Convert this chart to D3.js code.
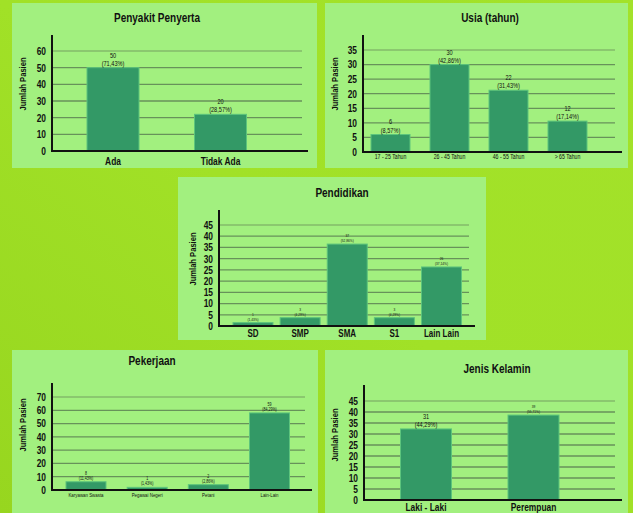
<!DOCTYPE html>
<html lang="id">
<head>
    <meta charset="UTF-8">
    <title>Karakteristik Pasien</title>
    <style>
        body{
            margin: 0;
            overflow: hidden;
        }
        svg{
            display: block;
        }
        text{
            font-family: "Liberation Sans", Arial, sans-serif;
            fill: #111;
        }
        .title{
            font-size: 12.5px;
            font-weight: bold;
        }
        .ylabel{
            font-size: 9.5px;
            font-weight: bold;
        }
        .tick text{
            font-family: "Liberation Sans", Arial, sans-serif;
            font-size: 10.5px;
            font-weight: bold;
            fill: #111;
        }
    </style>
    <script src="https://cdn.jsdelivr.net/npm/d3@7"></script>
</head>
<body>
<script>
    const width = 633
    const height = 513
    // narrow look of the original font
    const K = 0.8

    // Penyakit Penyerta
    const penyakitCats = ["Ada", "Tidak Ada"]
    const penyakitVals = [50, 22]
    const penyakitCounts = ["50", "20"]
    const penyakitPct = ["(71,43%)", "(28,57%)"]
    const penyakitTicks = [0, 10, 20, 30, 40, 50, 60]

    // Usia (tahun)
    const usiaCats = ["17 - 25 Tahun", "26 - 45 Tahun", "46 - 55 Tahun", "> 65 Tahun"]
    const usiaVals = [6, 30, 21.2, 10.6]
    const usiaCounts = ["6", "30", "22", "12"]
    const usiaPct = ["(8,57%)", "(42,86%)", "(31,43%)", "(17,14%)"]
    const usiaTicks = [0, 5, 10, 15, 20, 25, 30, 35]

    // Pendidikan
    const pendidikanCats = ["SD", "SMP", "SMA", "S1", "Lain Lain"]
    const pendidikanVals = [1.5, 3.7, 36.5, 3.7, 26.3]
    const pendidikanCounts = ["1", "3", "37", "3", "26"]
    const pendidikanPct = ["(1,43%)", "(4,29%)", "(52,86%)", "(4,29%)", "(37,14%)"]
    const pendidikanTicks = [0, 5, 10, 15, 20, 25, 30, 35, 40, 45]

    // Pekerjaan
    const pekerjaanCats = ["Karyawan Swasta", "Pegawai Negeri", "Petani", "Lain-Lain"]
    const pekerjaanVals = [6.2, 2, 4, 58]
    const pekerjaanCounts = ["8", "1", "2", "59"]
    const pekerjaanPct = ["(11,43%)", "(1,43%)", "(2,86%)", "(84,29%)"]
    const pekerjaanTicks = [0, 10, 20, 30, 40, 50, 60, 70]

    // Jenis Kelamin
    const kelaminCats = ["Laki - Laki", "Perempuan"]
    const kelaminVals = [32.3, 38.6]
    const kelaminCounts = ["31", "39"]
    const kelaminPct = ["(44,29%)", "(55,71%)"]
    const kelaminTicks = [0, 5, 10, 15, 20, 25, 30, 35, 40, 45]

    //layout of every panel
    const charts = [
        {title: "Penyakit Penyerta", cats: penyakitCats, vals: penyakitVals, counts: penyakitCounts, pct: penyakitPct, ticks: penyakitTicks,
            panel: [12, 3, 305, 165], titleX: 157, titleY: 22, ax: 52, axTop: 35, y0: 151, yTopPx: 51,
            axEnd: 308, gridEnd: 302, c0: 113, c1: 220.5, bw: 52, catSize: 10.5, catBold: true, catY: 165,
            valSize: [7, 7], ylX: 23, ylY: 84},
        {title: "Usia (tahun)", cats: usiaCats, vals: usiaVals, counts: usiaCounts, pct: usiaPct, ticks: usiaTicks,
            panel: [325, 3, 303, 165], titleX: 490, titleY: 22, ax: 363, axTop: 35, y0: 152, yTopPx: 50,
            axEnd: 622, gridEnd: 615, c0: 390.5, c1: 567.5, bw: 39, catSize: 6.5, catBold: false, catY: 158.5,
            valSize: [7, 7, 7, 7], ylX: 335, ylY: 84},
        {title: "Pendidikan", cats: pendidikanCats, vals: pendidikanVals, counts: pendidikanCounts, pct: pendidikanPct, ticks: pendidikanTicks,
            panel: [178, 177, 308, 163], titleX: 342, titleY: 197, ax: 219, axTop: 210, y0: 326, yTopPx: 225,
            axEnd: 475, gridEnd: 469, c0: 253, c1: 441.5, bw: 40, catSize: 10, catBold: true, catY: 337,
            valSize: [4, 4, 4, 4, 4], ylX: 193, ylY: 259},
        {title: "Pekerjaan", cats: pekerjaanCats, vals: pekerjaanVals, counts: pekerjaanCounts, pct: pekerjaanPct, ticks: pekerjaanTicks,
            panel: [12, 350, 306, 163], titleX: 152, titleY: 365, ax: 52, axTop: 383, y0: 490, yTopPx: 397,
            axEnd: 312, gridEnd: 305, c0: 86, c1: 269.5, bw: 40, catSize: 5.5, catBold: false, catY: 497,
            valSize: [4.5, 4.5, 4.5, 4.5], ylX: 23, ylY: 425},
        {title: "Jenis Kelamin", cats: kelaminCats, vals: kelaminVals, counts: kelaminCounts, pct: kelaminPct, ticks: kelaminTicks,
            panel: [325, 350, 303, 163], titleX: 497, titleY: 373, ax: 364, axTop: 385, y0: 500, yTopPx: 401,
            axEnd: 622, gridEnd: 615, c0: 426, c1: 533.5, bw: 51, catSize: 10.5, catBold: true, catY: 511,
            valSize: [7, 4], ylX: 335, ylY: 435}
    ]

    let svg = d3.select("body").append("svg")
        .attr("width", width)
        .attr("height", height)
        .attr("viewBox", `0 0 ${width} ${height}`)

    //background gradient
    let defs = svg.append("defs")
    let grad = defs.append("linearGradient").attr("id", "bg")
        .attr("x1", "0").attr("y1", "1").attr("x2", "1").attr("y2", "0")
    grad.append("stop").attr("offset", "0").attr("stop-color", "#97d61f")
    grad.append("stop").attr("offset", "0.5").attr("stop-color", "#a1e127")
    grad.append("stop").attr("offset", "1").attr("stop-color", "#a3e22a")
    svg.append("rect").attr("width", width).attr("height", height).attr("fill", "url(#bg)")

    //condensed text helper
    function narrow(g, x, y, str, size, weight) {
        return g.append("text")
            .attr("transform", `translate(${x},${y}) scale(${K},1)`)
            .attr("text-anchor", "middle")
            .style("font-size", size + "px")
            .style("font-weight", weight || "normal")
            .text(str)
    }

    charts.forEach(c => {
        let g = svg.append("g")
        const n = c.cats.length

        //panel
        g.append("rect")
            .attr("x", c.panel[0]).attr("y", c.panel[1])
            .attr("width", c.panel[2]).attr("height", c.panel[3])
            .attr("fill", "#a2f07f")

        //scales
        const step = (c.c1 - c.c0) / (n - 1)
        const pad = 1 - c.bw / step
        const x = d3.scaleBand()
            .domain(c.cats)
            .range([c.c0 - step / 2, c.c1 + step / 2])
            .paddingInner(pad)
            .paddingOuter(pad / 2)
        const yMax = c.ticks[c.ticks.length - 1]
        const y = d3.scaleLinear().domain([0, yMax]).range([c.y0, c.yTopPx])

        //gridlines
        g.selectAll(".grid")
            .data(c.ticks.filter(t => t > 0))
            .enter()
            .append("line")
            .attr("x1", c.ax).attr("x2", c.gridEnd)
            .attr("y1", d => y(d)).attr("y2", d => y(d))
            .attr("stroke", d => d === yMax ? "#83bb6a" : "#67925a")
            .attr("stroke-width", 1.3)

        //tick labels
        let yAxis = g.append("g")
            .attr("transform", `translate(${c.ax - 6},0)`)
            .call(d3.axisLeft(y).tickValues(c.ticks).tickSize(0))
        yAxis.select(".domain").remove()
        yAxis.selectAll("text")
            .attr("x", 0)
            .attr("transform", `scale(${K},1)`)

        //bars
        g.selectAll(".bar")
            .data(c.vals)
            .enter()
            .append("rect")
            .attr("x", (d, i) => x(c.cats[i]))
            .attr("width", x.bandwidth())
            .attr("y", d => y(d))
            .attr("height", d => c.y0 - y(d))
            .attr("fill", "#339966")
            .attr("stroke", "#5cc47c")
            .attr("stroke-width", 1)

        //value labels
        c.vals.forEach((v, i) => {
            const cx = x(c.cats[i]) + x.bandwidth() / 2
            const s = c.valSize[i]
            narrow(g, cx, y(v) - s * 1.15 - 2, c.counts[i], s)
            narrow(g, cx, y(v) - 2, c.pct[i], s)
        })

        //axes lines
        g.append("line")
            .attr("x1", c.ax).attr("x2", c.ax)
            .attr("y1", c.axTop).attr("y2", c.y0 + 1)
            .attr("stroke", "#111").attr("stroke-width", 2)
        g.append("line")
            .attr("x1", c.ax).attr("x2", c.axEnd)
            .attr("y1", c.y0).attr("y2", c.y0)
            .attr("stroke", "#111").attr("stroke-width", 2)

        //category labels
        c.cats.forEach(d => {
            narrow(g, x(d) + x.bandwidth() / 2, c.catY, d, c.catSize, c.catBold ? "bold" : "normal")
        })

        //title
        narrow(g, c.titleX, c.titleY, c.title, 12.5, "bold")

        //y label
        g.append("text")
            .attr("class", "ylabel")
            .attr("transform", `translate(${c.ylX},${c.ylY}) rotate(-90) scale(${K},1)`)
            .attr("text-anchor", "middle")
            .attr("dy", "0.35em")
            .text("Jumlah Pasien")
    })
</script>
</body>
</html>
